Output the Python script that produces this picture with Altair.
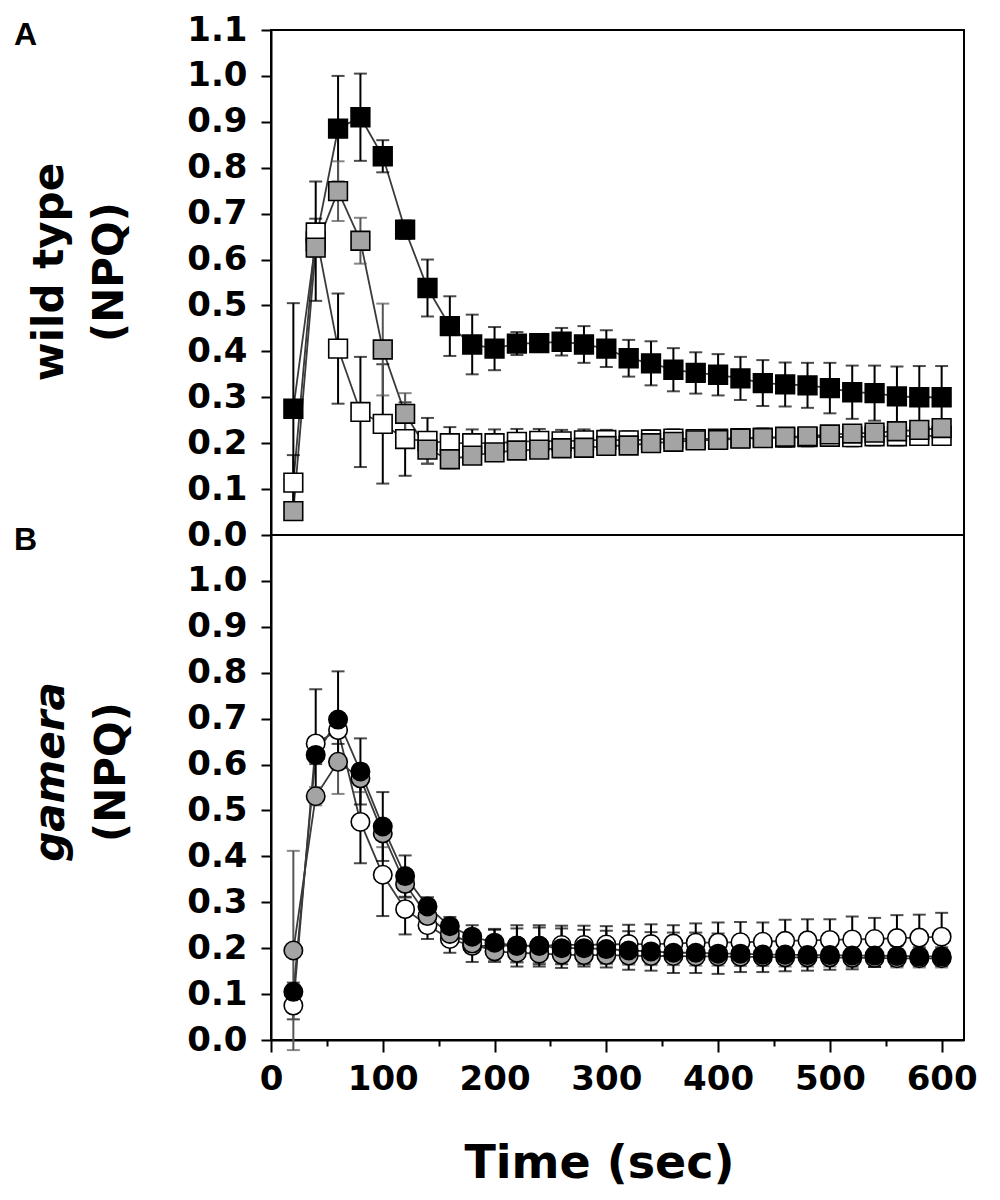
import altair as alt
import pandas as pd

# ---------------- data ----------------
time_s = [20, 40, 60, 80, 100, 120, 140, 160, 180, 200, 220, 240, 260, 280, 300,
          320, 340, 360, 380, 400, 420, 440, 460, 480, 500, 520, 540, 560, 580, 600]

# Panel A: wild type (squares)
wt_black = [0.275, 0.640, 0.885, 0.910, 0.825, 0.665, 0.538, 0.455, 0.415, 0.406,
            0.417, 0.418, 0.421, 0.415, 0.406, 0.385, 0.374, 0.360, 0.353, 0.349,
            0.341, 0.331, 0.328, 0.326, 0.320, 0.311, 0.309, 0.302, 0.300, 0.300]
wt_black_err = [0.230, 0.130, 0.115, 0.095, 0.035, 0.020, 0.062, 0.065, 0.065, 0.047,
                0.025, 0.005, 0.030, 0.040, 0.040, 0.040, 0.048, 0.047, 0.045, 0.045,
                0.047, 0.050, 0.048, 0.049, 0.055, 0.058, 0.060, 0.065, 0.068, 0.068]
wt_gray = [0.052, 0.626, 0.749, 0.641, 0.404, 0.264, 0.186, 0.165, 0.173, 0.180,
           0.184, 0.186, 0.189, 0.190, 0.194, 0.195, 0.200, 0.203, 0.206, 0.207,
           0.210, 0.211, 0.214, 0.215, 0.219, 0.221, 0.223, 0.226, 0.229, 0.233]
wt_gray_err = [0.015, 0.020, 0.065, 0.050, 0.100, 0.045, 0.030, 0.020, 0.015, 0.015,
               0.015, 0.015, 0.015, 0.015, 0.015, 0.015, 0.015, 0.015, 0.015, 0.015,
               0.015, 0.015, 0.015, 0.015, 0.015, 0.015, 0.015, 0.015, 0.015, 0.015]
wt_white = [0.114, 0.659, 0.406, 0.268, 0.242, 0.209, 0.205, 0.200, 0.200, 0.200,
            0.203, 0.205, 0.204, 0.206, 0.207, 0.206, 0.208, 0.210, 0.209, 0.210,
            0.211, 0.212, 0.212, 0.213, 0.214, 0.213, 0.215, 0.215, 0.216, 0.216]
wt_white_err = [0.060, 0.030, 0.120, 0.120, 0.130, 0.080, 0.050, 0.035, 0.030, 0.030,
                0.028, 0.026, 0.025, 0.024, 0.022, 0.020, 0.020, 0.020, 0.018, 0.018,
                0.018, 0.020, 0.020, 0.020, 0.020, 0.020, 0.020, 0.020, 0.020, 0.020]

# Panel B: gamera (circles)
gam_black = [0.105, 0.621, 0.698, 0.585, 0.465, 0.357, 0.291, 0.248, 0.225, 0.212,
             0.205, 0.205, 0.200, 0.200, 0.198, 0.195, 0.193, 0.190, 0.190, 0.188,
             0.188, 0.186, 0.186, 0.185, 0.185, 0.184, 0.184, 0.183, 0.182, 0.182]
gam_black_err = [0.020, 0.020, 0.105, 0.072, 0.075, 0.045, 0.020, 0.020, 0.025, 0.030,
                 0.045, 0.045, 0.043, 0.040, 0.040, 0.042, 0.042, 0.044, 0.044, 0.044,
                 0.040, 0.038, 0.036, 0.034, 0.032, 0.030, 0.025, 0.022, 0.020, 0.020]
gam_gray = [0.195, 0.531, 0.606, 0.570, 0.450, 0.340, 0.270, 0.231, 0.210, 0.193,
            0.190, 0.188, 0.186, 0.185, 0.185, 0.184, 0.183, 0.183, 0.182, 0.182,
            0.181, 0.181, 0.180, 0.180, 0.180, 0.179, 0.179, 0.178, 0.178, 0.178]
gam_gray_err = [0.217, 0.020, 0.070, 0.030, 0.030, 0.030, 0.020, 0.020, 0.020, 0.020,
                0.020, 0.020, 0.020, 0.020, 0.020, 0.020, 0.020, 0.020, 0.020, 0.020,
                0.020, 0.020, 0.020, 0.020, 0.020, 0.020, 0.020, 0.020, 0.020, 0.020]
gam_white = [0.075, 0.646, 0.675, 0.475, 0.360, 0.285, 0.250, 0.220, 0.205, 0.205,
             0.206, 0.205, 0.207, 0.207, 0.208, 0.209, 0.209, 0.210, 0.212, 0.212,
             0.213, 0.214, 0.216, 0.217, 0.218, 0.219, 0.220, 0.222, 0.223, 0.225]
gam_white_err = [0.030, 0.118, 0.030, 0.090, 0.090, 0.055, 0.030, 0.030, 0.035, 0.035,
                 0.037, 0.040, 0.042, 0.042, 0.040, 0.042, 0.043, 0.040, 0.042, 0.044,
                 0.044, 0.042, 0.046, 0.046, 0.045, 0.050, 0.046, 0.050, 0.050, 0.052]

fills = {"white": "#ffffff", "gray": "#a4a4a4", "black": "#000000"}
bar_colors = {"white": "#000000", "gray": "#555555", "black": "#000000"}


def make_df(black, black_err, gray, gray_err, white, white_err):
    rows = []
    for name, vals, errs in [("white", white, white_err), ("gray", gray, gray_err),
                             ("black", black, black_err)]:
        for t, v, e in zip(time_s, vals, errs):
            rows.append({"t": t, "v": v, "lo": v - e, "hi": v + e, "s": name})
    return pd.DataFrame(rows)


df_a = make_df(wt_black, wt_black_err, wt_gray, wt_gray_err, wt_white, wt_white_err)
df_b = make_df(gam_black, gam_black_err, gam_gray, gam_gray_err, gam_white, gam_white_err)

FONT = "DejaVu Sans"
xscale = alt.Scale(domain=[0, 620], nice=False)
yscale = alt.Scale(domain=[0, 1.1], nice=False)

major_y = "round(datum.value*100) % 10 == 0"


def y_axis(maxi):
    return alt.Axis(
        values=[round(0.05 * i, 2) for i in range(maxi)],
        labelExpr=f"{major_y} ? format(datum.value, '.1f') : ''",
        tickSize={"condition": {"test": major_y, "value": 10}, "value": 7},
        labelFont=FONT, labelFontWeight="bold", labelFontSize=34,
        labelPadding=14, labelOverlap=False, labelColor="black",
        domainColor="black", domainWidth=2, tickColor="black", tickWidth=2,
        grid=False, title=None,
    )


x_axis_bottom = alt.Axis(
    values=list(range(0, 601, 50)),
    labelExpr="datum.value % 100 == 0 ? datum.label : ''",
    tickSize={"condition": {"test": "datum.value % 100 == 0", "value": 12}, "value": 6},
    labelFont=FONT, labelFontWeight="bold", labelFontSize=34, labelPadding=10,
    labelOverlap=False, labelColor="black", labelFlush=False,
    domainColor="black", domainWidth=2, tickColor="black", tickWidth=2,
    grid=False, title="Time (sec)", titleFont=FONT, titleFontWeight="bold",
    titleFontSize=46, titlePadding=45, titleColor="black", titleX=328,
)


def panel(df, order, shape, size, yax, xax, title1, title1_style, title2, letter,
          t1x, t2x, ty, letter_y, height):
    x = alt.X("t:Q", scale=xscale, axis=xax)
    y = alt.Y("v:Q", scale=yscale, axis=yax)
    layers = []
    layers.append(
        alt.Chart(df).mark_line(color="#3a3a3a", strokeWidth=1.8).encode(
            x=x, y=y, detail="s:N")
    )
    for name in order:
        sub = df[df["s"] == name]
        c = bar_colors[name]
        layers.append(alt.Chart(sub).mark_rule(color=c, strokeWidth=2).encode(
            x=alt.X("t:Q", scale=xscale), y=alt.Y("lo:Q", scale=yscale), y2="hi:Q"))
        layers.append(alt.Chart(sub).mark_tick(color=c, thickness=2, size=13,
                                               orient="horizontal").encode(
            x=alt.X("t:Q", scale=xscale), y=alt.Y("lo:Q", scale=yscale)))
        layers.append(alt.Chart(sub).mark_tick(color=c, thickness=2, size=13,
                                               orient="horizontal").encode(
            x=alt.X("t:Q", scale=xscale), y=alt.Y("hi:Q", scale=yscale)))
    for name in order:
        sub = df[df["s"] == name]
        layers.append(alt.Chart(sub).mark_point(
            shape=shape, size=size, filled=True, fill=fills[name], stroke="black",
            strokeWidth=1.6, opacity=1).encode(
            x=alt.X("t:Q", scale=xscale), y=alt.Y("v:Q", scale=yscale)))
    txt = pd.DataFrame({"k": [0]})
    layers.append(alt.Chart(txt).mark_text(
        text=title1, angle=270, font=FONT, fontWeight="bold", fontStyle=title1_style,
        fontSize=42, align="center", baseline="alphabetic", color="black").encode(
        x=alt.value(t1x), y=alt.value(ty)))
    layers.append(alt.Chart(txt).mark_text(
        text=title2, angle=270, font=FONT, fontWeight="bold",
        fontSize=42, align="center", baseline="alphabetic", color="black").encode(
        x=alt.value(t2x), y=alt.value(ty)))
    layers.append(alt.Chart(txt).mark_text(
        text=letter, font="Liberation Sans", fontWeight="bold", fontSize=32,
        align="left", baseline="top", color="black").encode(
        x=alt.value(-257), y=alt.value(letter_y)))
    return alt.layer(*layers).properties(width=693, height=height)


top = panel(df_a, ["black", "white", "gray"], "square", 350, y_axis(23), None,
            "wild type", "normal", "(NPQ)", "A", -208, -148, 242, -10, 505)
bottom = panel(df_b, ["white", "gray", "black"], "circle", 340, y_axis(22),
               x_axis_bottom, "gamera", "italic", "(NPQ)", "B", -207, -146, 237,
               -10, 505)

chart = alt.vconcat(top, bottom, spacing=0, bounds="flush").properties(
    padding={"left": 5, "top": 4, "right": 5, "bottom": 5}
).configure_view(stroke="black", strokeWidth=2)

chart.save("out.html", embed_options={"renderer": "svg", "actions": False})
